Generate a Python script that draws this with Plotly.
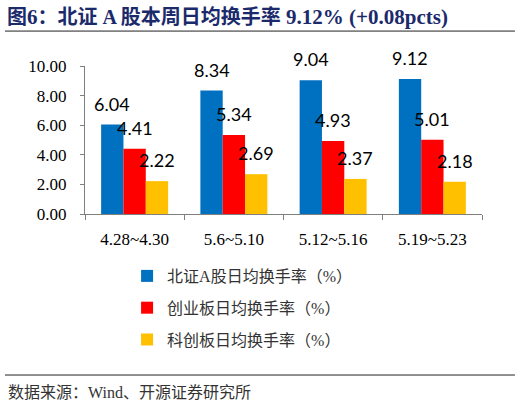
import plotly.graph_objects as go

# data
weeks = ["4.28~4.30", "5.6~5.10", "5.12~5.16", "5.19~5.23"]
bse_turnover = [6.04, 8.34, 9.04, 9.12]
chinext_turnover = [4.41, 5.34, 4.93, 5.01]
star_turnover = [2.22, 2.69, 2.37, 2.18]
series_names = ["北证A股日均换手率（%）", "创业板日均换手率（%）", "科创板日均换手率（%）"]
y_ticks = [0, 2, 4, 6, 8, 10]

colors = ["#0070C0", "#FF0000", "#FFC000"]
serif = "Liberation Serif, Times New Roman, Noto Sans CJK SC"
axis_grey = "#7F7F7F"
bar_w = 0.225
offsets = [-bar_w, 0, bar_w]

fig = go.Figure()
annotations = []
for vals, name, col, off in zip([bse_turnover, chinext_turnover, star_turnover],
                                series_names, colors, offsets):
    xs = [i + off for i in range(len(weeks))]
    fig.add_trace(go.Bar(x=xs, y=vals, width=bar_w, name=name, marker_color=col,
                         marker_line_width=0, legendgroup=name))
    for x, v in zip(xs, vals):
        annotations.append(dict(x=x, y=v, xref="x", yref="y", text=f"{v:.2f}",
                                showarrow=False, yanchor="middle", yshift=21,
                                font=dict(family="Lato, Open Sans, sans-serif", size=18, color="#000")))

# source note
annotations.append(dict(x=-0.2, y=-1.205, xref="paper", yref="paper", xanchor="left", yanchor="middle",
                        text="数据来源：Wind、开源证券研究所", showarrow=False,
                        font=dict(family=serif, size=16, color="#333")))

title_text = ("<b>图<span style='font-size:21px'>6</span>：北证 A 股本周日均换手率"
              "<span style='font-size:21px'> 9.12% (+0.08pcts)</span></b>")

fig.update_layout(
    width=520, height=405,
    margin=dict(l=85, r=38, t=66, b=191, autoexpand=False),
    paper_bgcolor="white", plot_bgcolor="white",
    barmode="overlay",
    title=dict(text=title_text,
               x=7 / 520, xref="container", xanchor="left",
               y=1 - 17 / 405, yref="container", yanchor="middle",
               font=dict(family=serif, size=20, color="#1B2A6B")),
    xaxis=dict(range=[-0.5, 3.5], tickvals=list(range(len(weeks))), ticktext=weeks,
               ticks="", showline=True, linecolor=axis_grey, linewidth=1,
               showgrid=False, zeroline=False, ticklabelstandoff=10,
               tickfont=dict(family=serif, size=17, color="#000"),
               minor=dict(tickvals=[i - 0.5 for i in range(len(weeks) + 1)],
                          ticks="outside", ticklen=5, tickcolor=axis_grey)),
    yaxis=dict(range=[0, 10], tickvals=y_ticks, tickformat=".2f",
               ticks="outside", ticklen=4, tickcolor=axis_grey,
               showline=True, linecolor=axis_grey, linewidth=1,
               showgrid=False, zeroline=False, ticklabelstandoff=10,
               tickfont=dict(family=serif, size=17, color="#000")),
    legend=dict(x=0.106, y=-0.304, xanchor="left", yanchor="top",
                orientation="v", traceorder="grouped", tracegroupgap=8,
                font=dict(family=serif, size=16, color="#333"),
                bgcolor="rgba(0,0,0,0)"),
    annotations=annotations,
    shapes=[
        dict(type="line", xref="paper", yref="paper", x0=-0.2015, x1=1.083, y0=1.236, y1=1.236,
             line=dict(color="#222", width=1)),
        dict(type="line", xref="paper", yref="paper", x0=-0.2015, x1=1.083, y0=-1.088, y1=-1.088,
             line=dict(color="#222", width=1)),
    ],
)

# the page body has a default 8px margin; drop it so the figure sits at the window corner
fig.write_html("out.html", config={"displayModeBar": False},
               post_script="document.body.style.margin='0';")
